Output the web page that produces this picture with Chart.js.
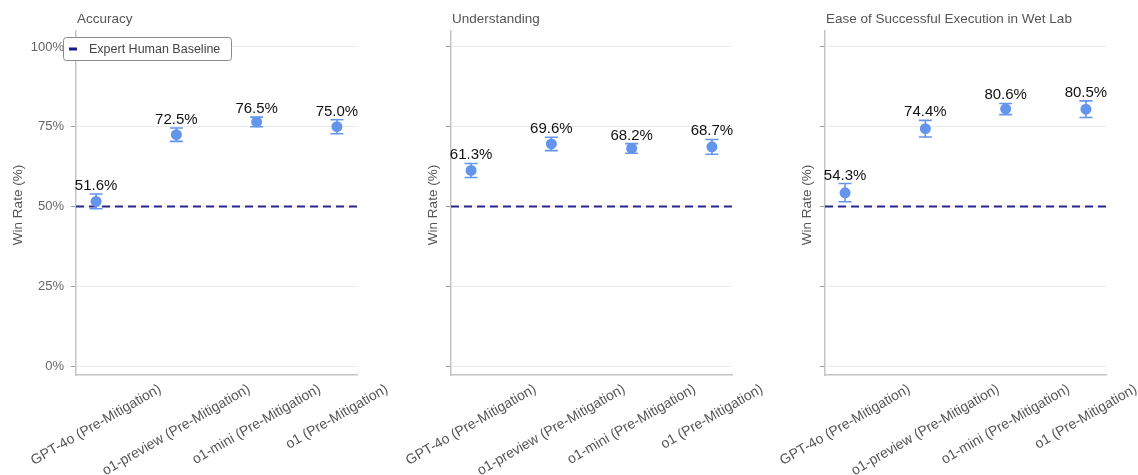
<!DOCTYPE html>
<html>
<head>
<meta charset="utf-8">
<script src="https://cdn.jsdelivr.net/npm/chart.js@4.4.1/dist/chart.umd.min.js"></script>
<style>
    body {
        margin: 0;
        background: #fff;
        width: 1138px;
        height: 475px;
        position: relative;
        overflow: hidden;
    }
    .panel {
        position: absolute;
        top: 0;
        width: 389px;
        height: 475px;
    }
</style>
</head>
<body>
<div class="panel" style="left:0"><canvas id="accuracyChart" width="389" height="475"></canvas></div>
<div class="panel" style="left:375px"><canvas id="understandingChart" width="389" height="475"></canvas></div>
<div class="panel" style="left:749px"><canvas id="wetLabChart" width="389" height="475"></canvas></div>
<script>
const categories = [
    "GPT-4o (Pre-Mitigation)",
    "o1-preview (Pre-Mitigation)",
    "o1-mini (Pre-Mitigation)",
    "o1 (Pre-Mitigation)"
];

const accuracy = [51.6, 72.5, 76.5, 75.0];
const accuracyLow = [49.3, 70.4, 75.0, 72.8];
const accuracyHigh = [53.9, 74.6, 78.0, 77.2];

const understanding = [61.3, 69.6, 68.2, 68.7];
const understandingLow = [59.1, 67.5, 66.7, 66.4];
const understandingHigh = [63.5, 71.7, 69.7, 71.0];

const wetLab = [54.3, 74.4, 80.6, 80.5];
const wetLabLow = [51.5, 71.8, 78.8, 77.9];
const wetLabHigh = [57.2, 77.0, 82.3, 83.1];

const baseline = 50;
const yTicks = [0, 25, 50, 75, 100];

const FONT = "'Liberation Sans', Arial, Helvetica, sans-serif";
const pointColor = "#6495ED";
const baselineColor = "#27278c";

// error bars, value labels, titles, rotated x labels and legend
const panelPlugin = {
    id: "panelText",

    afterDatasetsDraw(chart, args, opts) {
        const ctx = chart.ctx;
        const xs = chart.scales.x;
        const ys = chart.scales.y;

        ctx.save();
        opts.values.forEach((v, i) => {
            const px = xs.getPixelForValue(i);
            const top = ys.getPixelForValue(opts.high[i]);
            const bot = ys.getPixelForValue(opts.low[i]);

            ctx.strokeStyle = pointColor;
            ctx.lineWidth = 1.6;
            ctx.beginPath();
            ctx.moveTo(px, top);
            ctx.lineTo(px, bot);
            ctx.moveTo(px - 6.5, top);
            ctx.lineTo(px + 6.5, top);
            ctx.moveTo(px - 6.5, bot);
            ctx.lineTo(px + 6.5, bot);
            ctx.stroke();

            ctx.fillStyle = "#111";
            ctx.font = "15px " + FONT;
            ctx.textAlign = "center";
            ctx.textBaseline = "alphabetic";
            ctx.fillText(v.toFixed(1) + "%", px, top - 4);
        });
        ctx.restore();
    },

    afterDraw(chart, args, opts) {
        const ctx = chart.ctx;
        const area = chart.chartArea;
        const xs = chart.scales.x;

        ctx.save();

        // panel title
        ctx.fillStyle = "#555";
        ctx.font = "13.5px " + FONT;
        ctx.textAlign = "left";
        ctx.textBaseline = "middle";
        ctx.fillText(opts.title, area.left + 1, 19);

        // y axis title
        ctx.save();
        ctx.translate(opts.showTickLabels ? 18 : area.left - 18, 205);
        ctx.rotate(-Math.PI / 2);
        ctx.textAlign = "center";
        ctx.font = "13.5px " + FONT;
        ctx.fillText("Win Rate (%)", 0, 0);
        ctx.restore();

        // rotated category labels, centred on their tick
        const angle = 30 * Math.PI / 180;
        ctx.font = "14px " + FONT;
        ctx.fillStyle = "#555";
        categories.forEach((label, i) => {
            const px = xs.getPixelForValue(i);
            const w = ctx.measureText(label).width;
            const h = 14;
            const boxH = w * Math.sin(angle) + h * Math.cos(angle);
            ctx.save();
            ctx.translate(px, area.bottom + 7 + boxH / 2);
            ctx.rotate(-angle);
            ctx.textAlign = "center";
            ctx.textBaseline = "middle";
            ctx.fillText(label, 0, 0);
            ctx.restore();
        });

        if (opts.showLegend) {
            ctx.fillStyle = "#fff";
            ctx.strokeStyle = "#8a8a8a";
            ctx.lineWidth = 1;
            ctx.beginPath();
            ctx.roundRect(63.5, 37.5, 168, 23, 3);
            ctx.fill();
            ctx.stroke();

            ctx.strokeStyle = "#1a1a8c";
            ctx.lineWidth = 3;
            ctx.beginPath();
            ctx.moveTo(69, 49);
            ctx.lineTo(77, 49);
            ctx.stroke();

            ctx.fillStyle = "#444";
            ctx.font = "12.5px " + FONT;
            ctx.textAlign = "left";
            ctx.textBaseline = "middle";
            ctx.fillText("Expert Human Baseline", 89, 49.5);
        }

        ctx.restore();
    }
};

function createPanel(id, title, values, low, high, showTickLabels, showLegend) {
    const points = values.map((v, i) => ({ x: i, y: v }));

    return new Chart(document.getElementById(id), {
        type: "scatter",
        data: {
            datasets: [
                {
                    data: points,
                    backgroundColor: pointColor,
                    borderWidth: 0,
                    pointRadius: 5.5,
                    order: 0
                },
                {
                    type: "line",
                    data: [{ x: -0.25, y: baseline }, { x: 3.25, y: baseline }],
                    borderColor: baselineColor,
                    borderWidth: 2,
                    borderDash: [8, 5],
                    pointRadius: 0,
                    order: 1
                }
            ]
        },
        options: {
            responsive: false,
            animation: false,
            layout: {
                padding: { left: 0, top: 31, right: 32, bottom: 100 }
            },
            plugins: {
                legend: { display: false },
                tooltip: { enabled: false },
                panelText: {
                    title,
                    values,
                    low,
                    high,
                    showTickLabels,
                    showLegend
                }
            },
            scales: {
                x: {
                    type: "linear",
                    min: -0.25,
                    max: 3.25,
                    afterBuildTicks: scale => {
                        scale.ticks = categories.map((c, i) => ({ value: i }));
                    },
                    afterFit: scale => {
                        scale.height = 0;
                    },
                    ticks: { display: false },
                    grid: { display: false },
                    border: { display: true, color: "#c4c4c4", width: 1.5 }
                },
                y: {
                    min: -2.8,
                    max: 105,
                    afterBuildTicks: scale => {
                        scale.ticks = yTicks.map(v => ({ value: v }));
                    },
                    afterFit: scale => {
                        scale.width = 76;
                    },
                    ticks: {
                        padding: 7,
                        color: "#666",
                        font: { family: FONT, size: 13 },
                        callback: v => showTickLabels ? v + "%" : ""
                    },
                    grid: {
                        color: "#ebebeb",
                        tickColor: "#999",
                        tickLength: 5,
                        lineWidth: 1
                    },
                    border: { display: true, color: "#c4c4c4", width: 1.5 }
                }
            }
        },
        plugins: [panelPlugin]
    });
}

createPanel("accuracyChart", "Accuracy", accuracy, accuracyLow, accuracyHigh, true, true);
createPanel("understandingChart", "Understanding", understanding, understandingLow, understandingHigh, false, false);
createPanel("wetLabChart", "Ease of Successful Execution in Wet Lab", wetLab, wetLabLow, wetLabHigh, false, false);
</script>
</body>
</html>
